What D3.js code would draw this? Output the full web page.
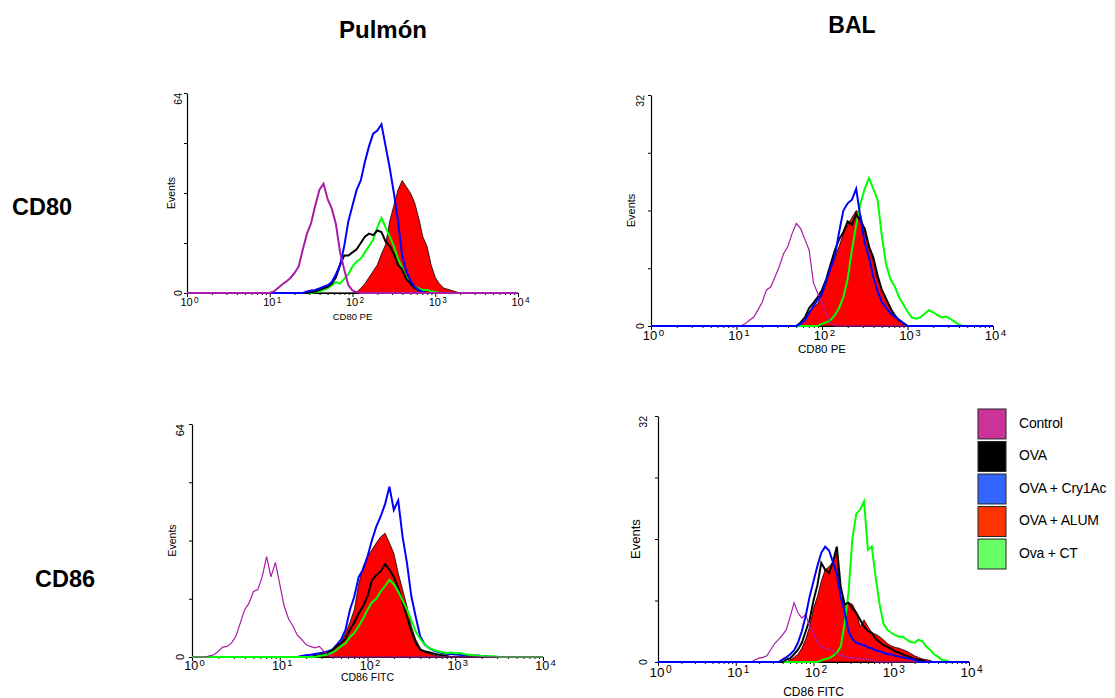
<!DOCTYPE html>
<html>
<head>
<meta charset="utf-8">
<script src="https://cdn.jsdelivr.net/npm/d3@7"></script>
<style>
body { margin: 0; background: #fff; }
svg { display: block; font-family: "Liberation Sans", Arial, sans-serif; }
</style>
</head>
<body>
<script>
// histogram channels are spaced STEP apart in log10 units, each series starts at "start"
var STEP = 0.05;
var decades = [0, 1, 2, 3, 4];
var groups = ["Control", "OVA", "OVA + Cry1Ac", "OVA + ALUM", "Ova + CT"];
var groupKeys = ["control", "ova", "cry", "alum", "ct"];

// Pulmón - CD80 PE
var pulCD80_control = {start: 1.05, v: [0.5,1.6,2.7,3.7,4.8,6.4,8.5,14,19,22.4,28,33,35,30,27,22,13,7.5,2.5,0.8,0.3]};
var pulCD80_ova     = {start: 1.50, v: [0.3,0.5,1,1.5,2,3,5,9,12,12,13,14,16,18,19,18.5,20,19.5,16.5,15,12.5,9,7.5,4.5,3,1.5,0.8,0.3]};
var pulCD80_cry     = {start: 1.45, v: [0.5,0.8,1,1.5,2,2.5,3.5,6,9,15,23,28,33,36,42,47,51,52,54,47,40,32,23,12,7,4,2,1,0.3]};
var pulCD80_alum    = {start: 2.05, v: [0.3,1.5,3,5,7,9,12.5,15.5,23,28,33,36,34,32,29,24,18,15,9,5,3,1.6,1.2,0.8,0.4]};
var pulCD80_ct      = {start: 1.55, v: [0.3,0.5,1,1.5,2.5,3.5,3,4.5,6,8.5,10,11,13,15,17,21,24,21,18,15,11,8,5,3,2,1.5,1,1,0.6,0.3]};

// BAL - CD80 PE
var balCD80_control = {start: 1.10, v: [0.3,0.8,1.2,2.2,3.3,5,5.4,6.8,8.2,10,11,12.8,14.2,13.5,12,10.5,6,4.5,3.3,1.7,0.5]};
var balCD80_ova     = {start: 1.75, v: [0.5,1.2,2.5,3.2,4,5,6.5,8.5,10.5,12,13,14.5,14,15.5,14.5,13.5,11,9.5,7,5,3.8,2.5,1.5,0.8,0.4]};
var balCD80_cry     = {start: 1.75, v: [0.3,0.8,1.8,2.8,3.6,4.5,6.3,8,9.6,13,16,17,17.5,19,15,11.5,9.5,6.8,4.8,3.3,2.5,1.8,1.3,0.9,0.4]};
var balCD80_alum    = {start: 1.75, v: [0.3,0.8,2,2.6,3.1,4.3,6,8,9.5,11,12.8,14,15,16,15.5,13,11,9,6.5,5,3.5,2.5,1.5,0.8,0.4]};
var balCD80_ct      = {start: 2.00, v: [0.3,0.5,0.8,1.5,2.5,4,6.5,10.5,14,17,19,20.5,19,17.5,12.5,8.5,6.5,5.5,4,3,2,1.2,1,1.2,1.7,2.2,1.9,1.5,1.2,1.3,1,0.6,0.2]};

// Pulmón - CD86 FITC
var pulCD86_control = {start: 0.20, v: [0.3,0.6,1.6,2.7,2.9,3.8,5.7,9.3,13,14.8,18,18.5,22,27.6,22,26,20,14,10.5,8.5,6,4.8,3.4,2.9,2.5,2.9,1.6,0.6]};
var pulCD86_ova     = {start: 1.40, v: [0.3,0.5,0.8,1.2,2,3,3.8,5,7.5,9.5,12,14,16.6,21,22.5,23.5,25.5,24,22,19,15,11,7,4,2,1.6,1.3,1,0.7,0.5,0.3]};
var pulCD86_cry     = {start: 1.25, v: [0.3,0.5,0.6,0.8,1,1.3,1.6,2,3.4,4.8,7.5,13,16.6,22,24,27.6,32,35.8,38.6,42,46.8,40.4,43,33,25.8,16.6,11,5.7,3.5,2.5,1.8,1.4,1.1,0.9,0.8,0.7,0.6,0.5,0.5,0.4,0.4,0.3,0.3]};
var pulCD86_alum    = {start: 1.50, v: [0.3,0.8,1.5,2.8,4,6.5,9.5,13,20,24.8,27.6,29.4,31.3,33,34,31.3,28.5,23,18.5,13.9,8.4,4.8,2.5,1.3,1,0.6,0.3]};
var pulCD86_ct      = {start: 1.45, v: [0.3,0.5,0.7,1.2,2,3,3.8,5.5,6.6,8.5,10.5,13,15,16,18,19.5,21.2,20,18,15.5,13,10,7,5,3.5,2.5,2,1.6,1.3,1.1,1.2,1,1.1,0.8,0.6,0.5,0.4,0.3,0.2,0.2,0.2]};

// BAL - CD86 FITC
var balCD86_control = {start: 1.25, v: [0.3,0.5,0.6,0.8,1.6,2.4,2.9,3.5,4.2,5.9,7.7,6.4,5.7,6.2,4.6,3.8,2.5,2,1.8,1.6,1.5,1,0.9,0.7,0.6,0.5,0.5,0.4,0.4,0.3,0.3]};
var balCD86_ova     = {start: 1.65, v: [0.3,0.5,1,1.6,2.5,4,5.5,8,10,12.9,12,11.6,13,15,9.8,7.5,7.7,7,6.4,5.5,4.6,4,3.8,3,2.6,2.2,2,1.7,1.4,1.2,1,0.8,0.6,0.4,0.3,0.2]};
var balCD86_cry     = {start: 1.60, v: [0.3,0.6,1,1.5,2.5,4,6,8.5,10.5,12.5,14.2,15,14.5,13,11.5,8.5,6.5,4,3,2.5,2.3,2.2,1.9,1.8,1.5,1.4,1.2,1,1,0.8,0.7,0.6,0.5,0.4,0.3]};
var balCD86_alum    = {start: 1.70, v: [0.3,0.6,1,1.8,3,4.6,7,8.5,10.5,12,12.4,13,14.2,8.5,7.5,7.7,7.5,6.5,4.6,5.5,4.6,3.8,3.6,3.3,2.9,2.4,2.1,1.9,1.8,1.6,1.4,1.1,0.8,0.6,0.4,0.3,0.2]};
var balCD86_ct      = {start: 2.10, v: [0.2,0.4,0.5,0.8,1.2,2,5,9,16,19.3,19.8,20.9,14.6,15,11,7.5,5,4.2,3.8,3.5,3.3,3.3,2.9,2.6,2.5,2.9,2.7,2,1.6,1,0.7,0.3,0.2]};

var yMaxPul = 64;
var yMaxBal = 32;

var lineColors = {control: "#a81ca8", ova: "#000000", cry: "#0000ff", alum: "#ff0000", ct: "#00ff00"};
var legendColors = ["#cc3399", "#000000", "#3366ff", "#ff3300", "#66ff66"];

function init()
{
    var w = 1115;
    var h = 698;

    var svg = d3.select("body")
                .append("svg")
                .attr("width", w)
                .attr("height", h);

    // headings
    svg.append("text").attr("x", 383).attr("y", 38).attr("text-anchor", "middle")
       .style("font-size", "24px").style("font-weight", "bold").text("Pulmón");
    svg.append("text").attr("x", 852).attr("y", 33).attr("text-anchor", "middle")
       .style("font-size", "23px").style("font-weight", "bold").text("BAL");
    svg.append("text").attr("x", 12).attr("y", 215)
       .style("font-size", "23.5px").style("font-weight", "bold").text("CD80");
    svg.append("text").attr("x", 35).attr("y", 587)
       .style("font-size", "23.5px").style("font-weight", "bold").text("CD86");

    var panels = [
        {x0: 187, x1: 518, yTop: 93, yBot: 293, ymax: yMaxPul, xlabel: "CD80 PE",
         data: {control: pulCD80_control, ova: pulCD80_ova, cry: pulCD80_cry, alum: pulCD80_alum, ct: pulCD80_ct},
         order: ["alum", "ct", "ova", "cry", "control"], ctrlWidth: 2,
         tickFont: 11, numFont: 10.5, labFont: 9.5, evFont: 10.5, tickDy: 13, labDy: 27, numOff: 9, evOff: 16},
        {x0: 651, x1: 993, yTop: 95, yBot: 326, ymax: yMaxBal, xlabel: "CD80 PE",
         data: {control: balCD80_control, ova: balCD80_ova, cry: balCD80_cry, alum: balCD80_alum, ct: balCD80_ct},
         order: ["alum", "ct", "ova", "control", "cry"], ctrlWidth: 1.2,
         tickFont: 13, numFont: 10.5, labFont: 11.5, evFont: 11, tickDy: 14, labDy: 27, numOff: 11, evOff: 20},
        {x0: 192, x1: 543, yTop: 424, yBot: 657, ymax: yMaxPul, xlabel: "CD86 FITC",
         data: {control: pulCD86_control, ova: pulCD86_ova, cry: pulCD86_cry, alum: pulCD86_alum, ct: pulCD86_ct},
         order: ["alum", "cry", "ova", "ct", "control"], ctrlWidth: 1.2,
         tickFont: 12.5, numFont: 11, labFont: 10.5, evFont: 10.5, tickDy: 13, labDy: 24, numOff: 12, evOff: 20},
        {x0: 658, x1: 969, yTop: 416, yBot: 662, ymax: yMaxBal, xlabel: "CD86 FITC",
         data: {control: balCD86_control, ova: balCD86_ova, cry: balCD86_cry, alum: balCD86_alum, ct: balCD86_ct},
         order: ["alum", "ct", "ova", "control", "cry"], ctrlWidth: 1.2,
         tickFont: 13.5, numFont: 10.5, labFont: 12, evFont: 13, tickDy: 15, labDy: 34, numOff: 15, evOff: 23}
    ];

    panels.forEach(function(p) { drawPanel(svg, p); });

    // legend
    var legend = svg.append("g");
    var boxY = d3.scaleBand().domain(groups).range([409, 569]).paddingInner(0.08);
    legend.selectAll("rect")
          .data(groups)
          .enter()
          .append("rect")
          .attr("x", 978)
          .attr("y", function(d) { return boxY(d); })
          .attr("width", 28)
          .attr("height", boxY.bandwidth())
          .style("fill", function(d, i) { return legendColors[i]; })
          .style("stroke", "#222")
          .style("stroke-width", 1);
    legend.selectAll("text")
          .data(groups)
          .enter()
          .append("text")
          .attr("x", 1019)
          .attr("y", function(d) { return boxY(d) + boxY.bandwidth() / 2 - 1; })
          .attr("dy", "0.35em")
          .style("font-size", "14px")
          .style("letter-spacing", "-0.2px")
          .text(function(d) { return d; });
}

function drawPanel(svg, p)
{
    var x = d3.scaleLog().domain([1, 10000]).range([p.x0, p.x1]);
    var y = d3.scaleLinear().domain([0, p.ymax]).range([p.yBot, p.yTop]);
    var g = svg.append("g");

    // x axis: minor ticks then decades
    var minors = [];
    decades.slice(0, 4).forEach(function(d) {
        for (var k = 2; k <= 9; k++) minors.push(k * Math.pow(10, d));
    });
    g.append("g")
     .attr("transform", "translate(0," + p.yBot + ")")
     .call(d3.axisBottom(x).tickValues(minors).tickSize(2).tickSizeOuter(0).tickFormat(""));
    var xAxis = g.append("g")
     .attr("transform", "translate(0," + p.yBot + ")")
     .call(d3.axisBottom(x).tickValues(decades.map(function(d) { return Math.pow(10, d); }))
                           .tickSize(4).tickSizeOuter(0).tickFormat(""));
    xAxis.selectAll(".tick").append("text")
     .attr("y", p.tickDy)
     .attr("x", 2)
     .attr("fill", "#000")
     .attr("text-anchor", "middle")
     .style("font-size", p.tickFont + "px")
     .each(function(d) {
         var t = d3.select(this);
         t.append("tspan").text("10");
         t.append("tspan").attr("dx", "0.15em").attr("dy", "-0.4em").style("font-size", "0.75em")
          .text(Math.round(Math.log10(d)));
     });

    // y axis
    var yTicks = [0, p.ymax / 4, p.ymax / 2, 3 * p.ymax / 4, p.ymax];
    g.append("g")
     .attr("transform", "translate(" + p.x0 + ",0)")
     .call(d3.axisLeft(y).tickValues(yTicks).tickSize(3).tickSizeOuter(0).tickFormat(""));
    g.selectAll(".domain").style("stroke", "#000").style("stroke-width", 1.2);

    g.append("text")
     .attr("transform", "translate(" + (p.x0 - p.numOff) + "," + y(0) + ") rotate(-90)")
     .attr("text-anchor", "middle").attr("dy", "0.35em")
     .style("font-size", p.numFont + "px").text("0");
    g.append("text")
     .attr("transform", "translate(" + (p.x0 - p.numOff) + "," + y(p.ymax) + ") rotate(-90)")
     .attr("text-anchor", "end").attr("dy", "0.35em")
     .style("font-size", p.numFont + "px").text(p.ymax);

    g.append("text")
     .attr("transform", "translate(" + (p.x0 - p.evOff) + "," + ((p.yTop + p.yBot) / 2) + ") rotate(-90)")
     .attr("text-anchor", "middle").attr("dy", "0.35em")
     .style("font-size", p.evFont + "px").text("Events");
    g.append("text")
     .attr("x", (p.x0 + p.x1) / 2).attr("y", p.yBot + p.labDy)
     .attr("text-anchor", "middle")
     .style("font-size", p.labFont + "px").text(p.xlabel);

    // histograms
    function points(s) {
        var out = [[0, 0], [s.start - STEP, 0]];
        s.v.forEach(function(v, i) { out.push([s.start + i * STEP, v]); });
        out.push([s.start + s.v.length * STEP, 0]);
        out.push([4, 0]);
        return out;
    }
    var line = d3.line()
                 .x(function(d) { return x(Math.pow(10, d[0])); })
                 .y(function(d) { return y(d[1]); });
    var area = d3.area()
                 .x(function(d) { return x(Math.pow(10, d[0])); })
                 .y0(y(0))
                 .y1(function(d) { return y(d[1]); });

    p.order.forEach(function(key) {
        var pts = points(p.data[key]);
        if (key == "alum") {
            g.append("path")
             .attr("d", area(pts))
             .style("fill", lineColors.alum)
             .style("stroke", "#000")
             .style("stroke-width", 0.8);
        } else {
            g.append("path")
             .attr("d", line(pts))
             .style("fill", "none")
             .style("stroke", lineColors[key])
             .style("stroke-width", key == "control" ? p.ctrlWidth : 2);
        }
    });
}

window.onload = init;
</script>
</body>
</html>
